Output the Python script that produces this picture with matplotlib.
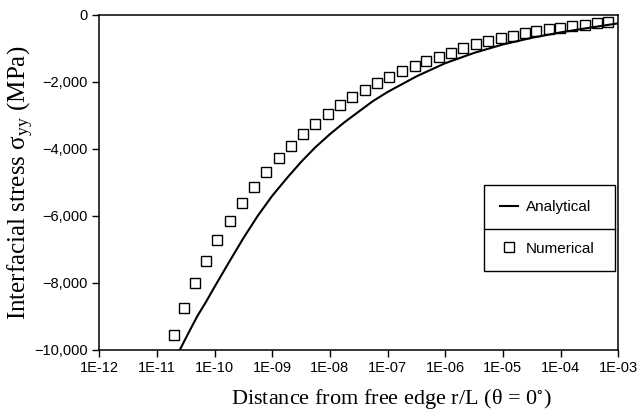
import numpy as np
import matplotlib
matplotlib.use("Agg")
import matplotlib.pyplot as plt
from matplotlib.ticker import FixedLocator, FuncFormatter
from matplotlib.lines import Line2D

# Analytical solution
r_analytical = [2.5e-11, 3.5e-11, 5.0e-11, 7.1e-11, 1.0e-10, 1.8e-10, 3.2e-10, 5.6e-10,
                1.0e-9, 1.8e-9, 3.2e-9, 5.6e-9, 1.0e-8, 1.8e-8, 3.2e-8, 5.6e-8,
                1.0e-7, 3.2e-7, 1.0e-6, 3.2e-6, 1.0e-5, 3.2e-5, 1.0e-4, 3.2e-4, 1.0e-3]
s_analytical = [-10000, -9510, -9000, -8570, -8120, -7370, -6650, -6000,
                -5400, -4870, -4380, -3950, -3560, -3200, -2880, -2570,
                -2300, -1830, -1440, -1130, -880, -680, -520, -380, -250]

# Numerical (FE) results
r_numerical = [2.0e-11, 3.0e-11, 4.6e-11, 7.1e-11, 1.12e-10, 1.86e-10, 2.95e-10, 4.8e-10,
               7.8e-10, 1.29e-9, 2.1e-9, 3.4e-9, 5.5e-9, 9.1e-9, 1.48e-8, 2.4e-8,
               4.0e-8, 6.5e-8, 1.07e-7, 1.78e-7, 2.95e-7, 4.7e-7, 7.9e-7, 1.26e-6,
               2.0e-6, 3.4e-6, 5.5e-6, 9.3e-6, 1.48e-5, 2.4e-5, 3.8e-5, 6.2e-5,
               9.8e-5, 1.58e-4, 2.6e-4, 4.2e-4, 6.6e-4]
s_numerical = [-9550, -8750, -8010, -7340, -6720, -6140, -5600, -5140,
               -4680, -4280, -3910, -3560, -3250, -2960, -2690, -2460,
               -2240, -2020, -1840, -1660, -1520, -1360, -1250, -1130,
               -1000, -875, -776, -696, -618, -546, -469, -433,
               -388, -343, -299, -254, -209]

x_ticks = [1e-12, 1e-11, 1e-10, 1e-9, 1e-8, 1e-7, 1e-6, 1e-5, 1e-4, 1e-3]
x_ticklabels = ['1E-12', '1E-11', '1E-10', '1E-09', '1E-08', '1E-07',
                '1E-06', '1E-05', '1E-04', '1E-03']
y_ticks = [0, -2000, -4000, -6000, -8000, -10000]

plt.rcParams['mathtext.fontset'] = 'stix'
tick_font = ['Liberation Sans', 'DejaVu Sans']
label_font = ['Liberation Serif', 'DejaVu Serif']

fig = plt.figure(figsize=(6.4, 4.16), dpi=100)
ax = fig.add_axes([0.155, 0.159, 0.811, 0.805])

ax.plot(r_analytical, s_analytical, color='black', lw=1.5)
ax.plot(r_numerical, s_numerical, linestyle='none', marker='s', markersize=7.5,
        markerfacecolor='none', markeredgecolor='black', markeredgewidth=1.0)

ax.set_xscale('log')
ax.set_xlim(1e-12, 1e-3)
ax.set_ylim(-10000, 0)
ax.xaxis.set_major_locator(FixedLocator(x_ticks))
ax.xaxis.set_minor_locator(FixedLocator([]))
ax.set_xticklabels(x_ticklabels)
ax.yaxis.set_major_locator(FixedLocator(y_ticks))
ax.yaxis.set_major_formatter(FuncFormatter(lambda v, p: f"{v:,.0f}".replace('-', '\u2212')))

ax.tick_params(direction='out', length=5, width=1.0, labelsize=10.5, pad=3)
for lab in ax.get_xticklabels() + ax.get_yticklabels():
    lab.set_family(tick_font)
for sp in ax.spines.values():
    sp.set_linewidth(1.1)

ax.set_xlabel(r'Distance from free edge r/L (θ = 0$^{\circ}$)',
              family=label_font, fontsize=16)
ax.set_ylabel(r'Interfacial stress σ$_{\mathregular{yy}}$ (MPa)',
              family=label_font, fontsize=18)
ax.xaxis.set_label_coords(0.563, -0.112)
ax.yaxis.set_label_coords(-0.123, 0.498)

handles = [Line2D([], [], color='black', lw=1.5),
           Line2D([], [], linestyle='none', marker='s', markersize=7,
                  markerfacecolor='none', markeredgecolor='black', markeredgewidth=1.0)]
leg = ax.legend(handles, ['Analytical', 'Numerical'], loc='upper left',
                bbox_to_anchor=(0.742, 0.234, 0.252, 0.2585), mode='expand',
                frameon=True, fancybox=False,
                edgecolor='black', framealpha=1, borderpad=1.0, labelspacing=1.8,
                handlelength=1.2, handletextpad=0.5, borderaxespad=0,
                prop={'family': tick_font, 'size': 11})
leg.get_frame().set_linewidth(1.0)
ax.plot([0.742, 0.994], [0.361, 0.361], transform=ax.transAxes,
        color='black', lw=1.0, zorder=10)

fig.savefig('out.png', dpi=100)
